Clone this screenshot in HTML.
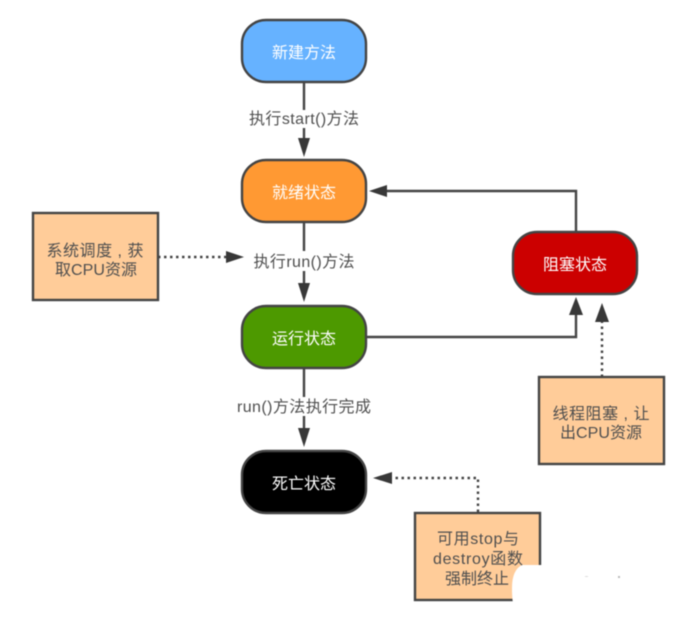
<!DOCTYPE html>
<html><head><meta charset="utf-8">
<style>
html,body{margin:0;padding:0;background:#fff;width:685px;height:619px;overflow:hidden}
svg{display:block;filter:blur(0.4px)}
text{font-family:"Liberation Sans","Noto Sans CJK SC",sans-serif;font-size:16px;text-anchor:middle}
.w{fill:#fff}
.d{fill:#4f4f4f}
.l{fill:none;stroke:#444;stroke-width:2.4}
.dot{fill:none;stroke:#444;stroke-width:2.4;stroke-dasharray:2.5 3.5}
.a{fill:#383838}
.n{stroke:#444;stroke-width:2.4}
.b{fill:#ffcc99;stroke:#444;stroke-width:2.4}
</style></head><body>
<svg width="685" height="619" viewBox="0 0 685 619" xmlns="http://www.w3.org/2000/svg">
<!-- lines -->
<path class="l" d="M304 82V140M304 222V285M304 368V430"/>
<path class="l" d="M366 337H576V314"/>
<path class="l" d="M576 232V191H386"/>
<path class="dot" d="M158 257H227"/>
<path class="dot" d="M602 377V321"/>
<path class="dot" d="M478 512V478H391"/>
<!-- arrowheads -->
<path class="a" d="M298 138H310L304 157Z"/>
<path class="a" d="M298 283H310L304 302Z"/>
<path class="a" d="M298 428H310L304 447Z"/>
<path class="a" d="M569 315H583L576 297Z"/>
<path class="a" d="M595 322H609L602 303Z"/>
<path class="a" d="M387 185V197L369 191Z"/>
<path class="a" d="M226 251V263L244 257Z"/>
<path class="a" d="M392 472V484L373 478Z"/>
<!-- label backgrounds -->
<rect x="248" y="110" width="112" height="18" fill="#fff"/>
<rect x="250" y="251" width="108" height="20" fill="#fff"/>
<rect x="236" y="397" width="137" height="19" fill="#fff"/>
<!-- nodes -->
<rect class="n" x="242" y="20" width="124" height="62" rx="24" fill="#66b2ff"/>
<rect class="n" x="242" y="160" width="124" height="62" rx="24" fill="#ff9933"/>
<rect class="n" x="242" y="306" width="124" height="62" rx="24" fill="#4d9900"/>
<rect class="n" x="242" y="451" width="124" height="62" rx="24" fill="#000"/>
<rect class="n" x="513" y="232" width="124" height="62" rx="24" fill="#cc0000"/>
<!-- boxes -->
<rect class="b" x="33" y="213" width="125" height="87"/>
<rect class="b" x="539" y="377" width="125" height="87"/>
<rect class="b" x="415" y="513" width="125" height="87"/>
<!-- white blob -->
<path d="M540 565H522Q512 570 512 588Q512 598 513 603H560V565Z" fill="#fff"/>
<rect x="585" y="576" width="3" height="1" fill="#ddd"/>
<rect x="618" y="576" width="2" height="2" fill="#bbb"/>
<!-- node text -->
<text class="w" x="304" y="58">新建方法</text>
<text class="w" x="304" y="198">就绪状态</text>
<text class="w" x="304" y="344">运行状态</text>
<text class="w" x="304" y="489">死亡状态</text>
<text class="w" x="575" y="270">阻塞状态</text>
<!-- labels -->
<text class="d" x="304" y="124" textLength="110">执行start()方法</text>
<text class="d" x="304" y="267" textLength="101">执行run()方法</text>
<text class="d" x="304" y="412" textLength="134">run()方法执行完成</text>
<!-- box text -->
<text class="d" x="95" y="256" textLength="97">系统调度 , 获</text>
<text class="d" x="96" y="275" textLength="82">取CPU资源</text>
<text class="d" x="601" y="419" textLength="97">线程阻塞 , 让</text>
<text class="d" x="601" y="438" textLength="82">出CPU资源</text>
<text class="d" x="478" y="544" textLength="82">可用stop与</text>
<text class="d" x="478" y="564" textLength="90">destroy函数</text>
<text class="d" x="477" y="584">强制终止</text>
</svg>
</body></html>
